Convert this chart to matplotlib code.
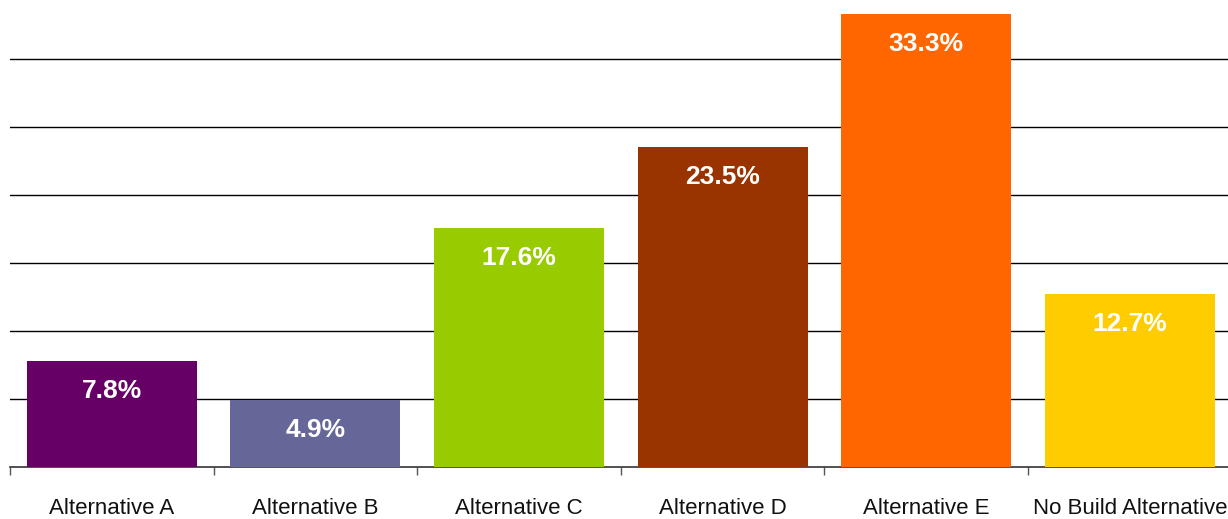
import matplotlib
matplotlib.use("Agg")
import matplotlib.pyplot as plt
from matplotlib import font_manager

categories = ["Alternative A", "Alternative B", "Alternative C",
              "Alternative D", "Alternative E", "No Build Alternative"]
shares = [7.8, 4.9, 17.6, 23.5, 33.3, 12.7]
bar_colors = ["#660066", "#666699", "#99CC00", "#993300", "#FF6600", "#FFCC00"]
grid_levels = [0, 5, 10, 15, 20, 25, 30]

names = {f.name for f in font_manager.fontManager.ttflist}
family = "Liberation Sans Narrow" if "Liberation Sans Narrow" in names else "Liberation Sans"

W, H = 1228, 519
fig = plt.figure(figsize=(W / 100, H / 100), dpi=100)
left, base = 10, 467
step = 203.6
px_per_pct = 13.6
ymax = base / px_per_pct
ax = fig.add_axes([left / W, (H - base) / H, 6 * step / W, base / H])

x = list(range(len(categories)))
ax.bar(x, shares, width=0.835, color=bar_colors, zorder=3)
ax.set_xlim(-0.5, len(categories) - 0.5)
ax.set_ylim(0, ymax)

for lvl in grid_levels[1:]:
    ax.axhline(lvl, color="black", lw=1, zorder=1)

for s in ["top", "right", "left"]:
    ax.spines[s].set_visible(False)
ax.spines["bottom"].set_color("#333333")
ax.spines["bottom"].set_linewidth(1.2)
ax.set_yticks([])

ax.set_xticks([i - 0.5 for i in range(len(categories))])
ax.set_xticklabels([])
ax.tick_params(axis="x", length=6, color="#555555", width=1)

label_size = 15 if family.endswith("Narrow") else 16
for i, name in enumerate(categories):
    ax.annotate(name, (i, 0), xytext=(0, -42), textcoords="offset pixels",
                ha="center", va="center", fontsize=label_size, family=family,
                color="#111111", annotation_clip=False)

for i, v in enumerate(shares):
    ax.annotate(f"{v}%", (i, v), xytext=(0, -30), textcoords="offset pixels",
                ha="center", va="center", fontsize=19, fontweight="bold",
                family="Liberation Sans", color="white", zorder=4)

fig.savefig("out.png", dpi=100)
